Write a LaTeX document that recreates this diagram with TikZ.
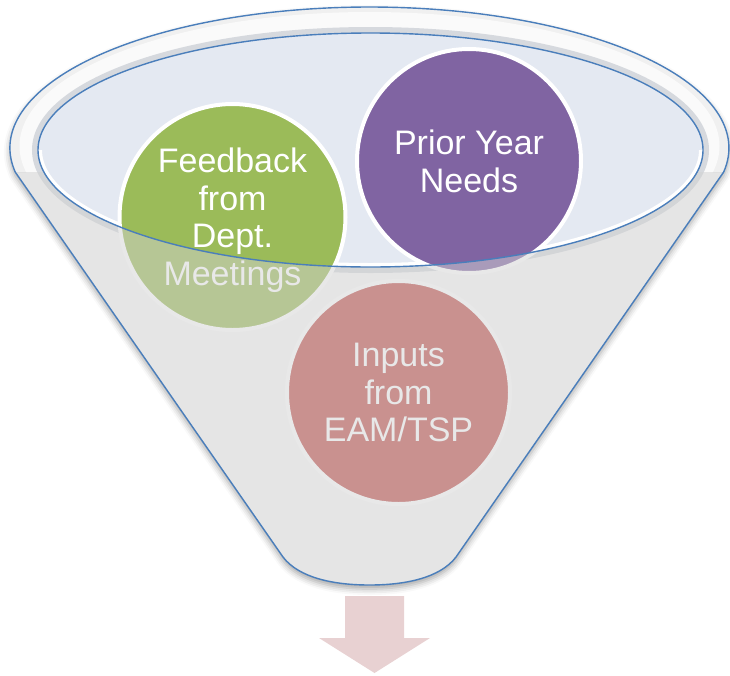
\documentclass[tikz,border=0pt]{standalone}
\usepackage{fontspec}
\setmainfont{Liberation Sans}
\usetikzlibrary{shadows.blur}
\definecolor{fgreen}{HTML}{9BBB59}
\definecolor{fpurple}{HTML}{8064A2}
\definecolor{fred}{HTML}{C0504D}
\definecolor{fblue}{HTML}{4A7EBB}
\definecolor{fopen}{HTML}{E4E9F2}
\definecolor{frim}{HTML}{FAFAFA}
\definecolor{fveil}{HTML}{D2D2D2}
\definecolor{fband}{HTML}{D6D9DE}
\definecolor{farrow}{HTML}{E8D1D2}
\begin{document}
\begin{tikzpicture}[x=1pt,y=-1pt,
  ball/.style={circle, draw=white, line width=4pt, inner sep=0pt, text=white, align=center,
    font=\fontsize{34}{37.7}\selectfont},
  outline/.style={draw=fblue, line width=1.4pt}]
\useasboundingbox (0,0) rectangle (730,675);
% funnel body with shadow
\fill[frim, blur shadow={shadow xshift=0pt, shadow yshift=-4pt, shadow blur radius=6pt, shadow opacity=35}]
  (283,557) -- (15.2,172) arc[start angle=170.2,end angle=369.8,x radius=359.5,y radius=141]
  -- (456,557) .. controls (440,578) and (405,585) .. (369.5,585)
  .. controls (334,585) and (299,578) .. (283,557) -- cycle;
% rim tone (back half)
\begin{scope}
  \clip (0,0) rectangle (730,172);
  \fill[black!6] (369.5,148) ellipse[x radius=359.5, y radius=141];
  \fill[black!2] (369.5,146) ellipse[x radius=350, y radius=134];
\end{scope}
% inner shadow of the rim
\draw[fband, line width=12pt] (370.5,150) ellipse[x radius=332.5, y radius=117];
% opening
\fill[fopen] (370.5,150) ellipse[x radius=332.5, y radius=117];
\begin{scope}
  \clip (0,150) rectangle (730,675);
  \clip (370.5,150) ellipse[x radius=332.5, y radius=117];
  \draw[white, line width=8pt] (370.5,150) ellipse[x radius=332.5, y radius=117];
\end{scope}
% circles
\node[ball, fill=fgreen, minimum size=226pt] (feedback) at (232.5,217)
  {\rule{0pt}{31pt}Feedback\\from\\Dept.\\Meetings};
\node[ball, fill=fpurple, minimum size=224pt] (prior) at (469,161) {Prior Year\\Needs};
\node[ball, fill=fred, minimum size=223pt] (inputs) at (398.5,392.5) {Inputs\\from\\EAM/TSP};
% front veil of the funnel
\begin{scope}
  \clip (0,172) rectangle (730,675);
  \fill[fveil, opacity=0.5, even odd rule]
    (283,557) -- (15.2,172) arc[start angle=170.2,end angle=369.8,x radius=359.5,y radius=141]
    -- (456,557) .. controls (440,578) and (405,585) .. (369.5,585)
    .. controls (334,585) and (299,578) .. (283,557) -- cycle
    (370.5,150) ellipse[x radius=332.5, y radius=117];
\end{scope}
% outlines
\draw[outline]
  (283,557) -- (15.2,172) arc[start angle=170.2,end angle=369.8,x radius=359.5,y radius=141]
  -- (456,557) .. controls (440,578) and (405,585) .. (369.5,585)
  .. controls (334,585) and (299,578) .. (283,557) -- cycle;
\draw[outline] (370.5,150) ellipse[x radius=332.5, y radius=117];
% arrow
\fill[farrow] (345,596) -- (404,596) -- (404,638) -- (430,638) -- (374.5,673)
  -- (319,638) -- (345,638) -- cycle;
\end{tikzpicture}
\end{document}
